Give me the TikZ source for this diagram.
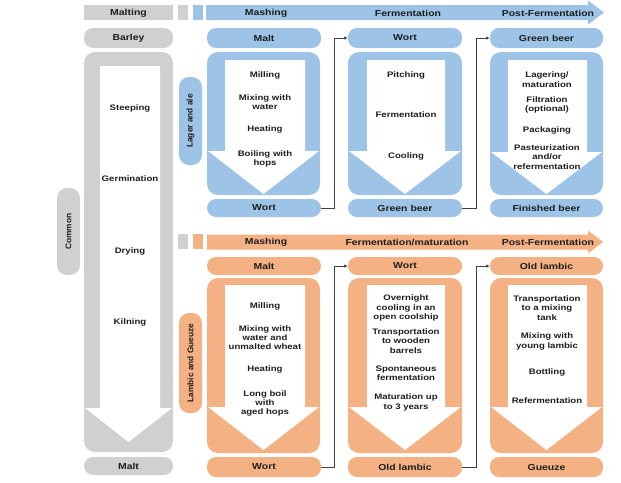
\documentclass[tikz,border=0pt]{standalone}
\usepackage{fontspec}
\setmainfont[FakeStretch=1.2]{Liberation Sans}
\newfontfamily\vfont{Liberation Sans}
\usetikzlibrary{arrows.meta}
\definecolor{blu}{HTML}{9DC3E6}
\definecolor{ora}{HTML}{F4B183}
\definecolor{gry}{HTML}{D0D0D0}
\definecolor{txt}{HTML}{1E1E1E}
% #1 x1, #2 x2, #3 ytop, #4 ybot, #5 shaft x1, #6 shaft x2, #7 shaft top, #8 head y, #9 tip y
\newcommand\brewcol[9]{%
  \fill[\colr, rounded corners=11pt] (#1,#3) rectangle (#2,#4);
  \fill[white] (#5,#7) -- (#6,#7) -- (#6,#8) -- (#2-1,#8) -- ({(#1+#2)/2},#9) -- (#1+1,#8) -- (#5,#8) -- cycle;
}
\begin{document}
\begin{tikzpicture}[x=1pt,y=-1pt,
 pill/.style={rounded corners=9pt, inner sep=0pt, text=txt, font=\fontsize{8.7}{10}\selectfont\bfseries},
 hdr/.style={inner sep=0pt, text=txt, font=\fontsize{8.7}{10}\selectfont\bfseries},
 body/.style={align=center, inner sep=0pt, text=txt, font=\fontsize{8}{9.3}\selectfont\bfseries},
 vlab/.style={rounded corners=10pt, inner sep=0pt, rotate=90, text=txt, font=\vfont\fontsize{8.3}{10}\selectfont\bfseries},
 conn/.style={draw=black!75, line width=0.8pt, -{Latex[length=3.5pt,width=3.5pt]}}
]
\useasboundingbox (0,0) rectangle (621,482);

% ---------- headers ----------
\fill[gry] (84,5) rectangle (173,20);
\fill[gry] (178,5) rectangle (188,20);
\fill[blu] (193,5) rectangle (203,20);
\fill[blu] (206,5) -- (588,5) -- (588,0.5) -- (604,12.5) -- (588,24.5) -- (588,20) -- (206,20) -- cycle;
\node[hdr] (hmalting) at (128.5,13) {Malting};
\node[hdr] (hmash1) at (266,13) {Mashing};
\node[hdr] (hferm1) at (408,13) {Fermentation};
\node[hdr] (hpost1) at (548,13) {Post-Fermentation};

\fill[gry] (178,234) rectangle (188,249);
\fill[ora] (193,234) rectangle (203,249);
\fill[ora] (207,234.5) -- (588,234.5) -- (588,230.5) -- (603,242) -- (588,253.5) -- (588,249.5) -- (207,249.5) -- cycle;
\node[hdr] (hmash2) at (266,242) {Mashing};
\node[hdr] (hferm2) at (407,242) {Fermentation/maturation};
\node[hdr] (hpost2) at (548,242) {Post-Fermentation};

% ---------- side labels ----------
\node[vlab, fill=gry, minimum width=87pt, minimum height=23pt] (common) at (68.5,231.5) {Common};
\node[vlab, fill=blu, minimum width=88pt, minimum height=23pt] (lager) at (190.5,121) {Lager and ale};
\node[vlab, fill=ora, minimum width=100pt, minimum height=23pt] (lambic) at (190.5,363) {Lambic and Gueuze};

% ---------- big columns ----------
\def\colr{gry}
\brewcol{84}{173}{52}{452}{100}{160}{66}{408}{442}
\def\colr{blu}
\brewcol{207}{320}{52}{195}{225}{305}{60}{151}{194}
\brewcol{348}{462}{52}{195}{367}{445}{60}{151}{194}
\brewcol{490}{603}{52}{195}{508}{587}{60}{152}{194}
\def\colr{ora}
\brewcol{207}{320}{278}{453}{225}{305}{285}{407}{450}
\brewcol{348}{462}{278}{453}{367}{445}{285}{407}{450}
\brewcol{490}{603}{278}{453}{508}{587}{285}{407}{450}

% ---------- pills ----------
\node[pill, fill=gry, minimum width=89pt, minimum height=20pt] (barley) at (128.5,38) {Barley};
\node[pill, fill=gry, minimum width=89pt, minimum height=18pt] (maltG) at (128.5,466) {Malt};

\node[pill, fill=blu, minimum width=114pt, minimum height=20pt] (maltB) at (264,38) {Malt};
\node[pill, fill=blu, minimum width=114pt, minimum height=20pt] (wortB) at (405,38) {Wort};
\node[pill, fill=blu, minimum width=113pt, minimum height=20pt] (greenB) at (546.5,38) {Green beer};
\node[pill, fill=blu, minimum width=114pt, minimum height=18pt] (wortB2) at (264,208) {Wort};
\node[pill, fill=blu, minimum width=114pt, minimum height=18pt] (greenB2) at (405,208) {Green beer};
\node[pill, fill=blu, minimum width=113pt, minimum height=18pt] (finished) at (546.5,208) {Finished beer};

\node[pill, fill=ora, minimum width=114pt, minimum height=18pt] (maltO) at (264,266) {Malt};
\node[pill, fill=ora, minimum width=114pt, minimum height=18pt] (wortO) at (405,266) {Wort};
\node[pill, fill=ora, minimum width=113pt, minimum height=18pt] (oldO) at (546.5,266) {Old lambic};
\node[pill, fill=ora, minimum width=114pt, minimum height=20pt] (wortO2) at (264,467) {Wort};
\node[pill, fill=ora, minimum width=114pt, minimum height=20pt] (oldO2) at (405,467) {Old lambic};
\node[pill, fill=ora, minimum width=113pt, minimum height=20pt] (gueuze) at (546.5,467) {Gueuze};

% ---------- connectors ----------
\draw[conn] (wortB2.east) -- ++(13,0) |- (wortB.west);
\draw[conn] (greenB2.east) -- ++(14,0) |- (greenB.west);
\draw[conn] (wortO2.east) -- ++(13,0) |- (wortO.west);
\draw[conn] (oldO2.east) -- ++(14,0) |- (oldO.west);

% ---------- texts: common ----------
\node[body] (t1) at (130,108) {Steeping};
\node[body] (t2) at (130,179) {Germination};
\node[body] (t3) at (130,251) {Drying};
\node[body] (t4) at (130,322) {Kilning};

% ---------- texts: lager ----------
\node[body] (b1) at (265,75) {Milling};
\node[body] (b2) at (265,102) {Mixing with\\water};
\node[body] (b3) at (265,129) {Heating};
\node[body] (b4) at (265,159) {Boiling with\\hops};
\node[body] (b5) at (406,75) {Pitching};
\node[body] (b6) at (406,115) {Fermentation};
\node[body] (b7) at (406,156) {Cooling};
\node[body] (b8) at (547,79.5) {Lagering/\\maturation};
\node[body] (b9) at (547,105) {Filtration\\(optional)};
\node[body] (b10) at (547,130) {Packaging};
\node[body] (b11) at (547,157) {Pasteurization\\and/or\\refermentation};

% ---------- texts: lambic ----------
\node[body] (o1) at (265,306) {Milling};
\node[body] (o2) at (265,337.5) {Mixing with\\water and\\unmalted wheat};
\node[body] (o3) at (265,369) {Heating};
\node[body] (o4) at (265,403.5) {Long boil\\with\\aged hops};
\node[body] (o5) at (406,308) {Overnight\\cooling in an\\open coolship};
\node[body] (o6) at (406,341) {Transportation\\to wooden\\barrels};
\node[body] (o7) at (406,373.5) {Spontaneous\\fermentation};
\node[body] (o8) at (406,402.5) {Maturation up\\to 3 years};
\node[body] (o9) at (547,308) {Transportation\\to a mixing\\tank};
\node[body] (o10) at (547,341.5) {Mixing with\\young lambic};
\node[body] (o11) at (547,372) {Bottling};
\node[body] (o12) at (547,401) {Refermentation};
\end{tikzpicture}
\end{document}
